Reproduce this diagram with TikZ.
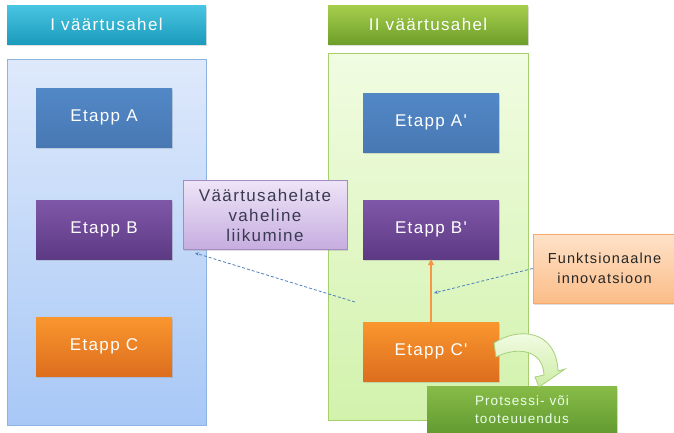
\documentclass[tikz,border=0pt]{standalone}
\usepackage{fontspec}
\setmainfont{Liberation Sans}
\newfontfamily\lsf[LetterSpace=8]{Liberation Sans}
\usetikzlibrary{shadows,arrows.meta}
\definecolor{hdrItop}{HTML}{48C5E2}
\definecolor{hdrIbot}{HTML}{1C9BBC}
\definecolor{hdrIItop}{HTML}{A6CE4C}
\definecolor{hdrIIbot}{HTML}{6E9F2A}
\definecolor{pLtop}{HTML}{DEE9FB}
\definecolor{pLbot}{HTML}{A8C8F6}
\definecolor{pLborder}{HTML}{8DB3E2}
\definecolor{pRtop}{HTML}{F1FCE2}
\definecolor{pRbot}{HTML}{D2F2AC}
\definecolor{pRborder}{HTML}{A6CF6E}
\definecolor{aTop}{HTML}{5288C6}
\definecolor{aBot}{HTML}{4878B4}
\definecolor{bTop}{HTML}{7F57A8}
\definecolor{bBot}{HTML}{5D3A84}
\definecolor{cTop}{HTML}{FA962E}
\definecolor{cBot}{HTML}{DC6E1E}
\definecolor{vTop}{HTML}{EEE4F7}
\definecolor{vBot}{HTML}{C6ADE0}
\definecolor{vBorder}{HTML}{A48CC3}
\definecolor{fTop}{HTML}{FEE2C8}
\definecolor{fBot}{HTML}{FBBD88}
\definecolor{fBorder}{HTML}{F6A96B}
\definecolor{gTop}{HTML}{88BC48}
\definecolor{gBot}{HTML}{629A30}
\definecolor{caTop}{HTML}{F6FDEA}
\definecolor{caBot}{HTML}{CDEDA6}
\definecolor{caBorder}{HTML}{A7D07A}
\definecolor{dashblue}{HTML}{4F81BD}
\definecolor{orangeline}{HTML}{F79646}
\definecolor{vText}{HTML}{3A3A52}
\begin{document}
\begin{tikzpicture}[x=1pt,y=-1pt,
  box/.style={rectangle, inner sep=0pt, align=center, font=\lsf\fontsize{17}{20}\selectfont},
  shad/.style={drop shadow={opacity=0.25, shadow xshift=1pt, shadow yshift=-1.5pt}},
  header/.style={box, shad, text=white, minimum height=39pt},
  panel/.style={rectangle, inner sep=0pt, line width=0.8pt},
  etapp/.style={box, shad, text=white, minimum width=136pt, minimum height=59pt},
  dline/.style={dashblue, line width=0.8pt, dash pattern=on 3pt off 2pt, -{Stealth[length=4pt,width=3.5pt]}},
  oarrow/.style={orangeline, line width=1.5pt, -{Triangle[length=6pt,width=6pt]}},
  curvearrow/.style={draw=caBorder, line width=0.8pt, top color=caTop, bottom color=caBot}
]
\useasboundingbox (0,0) rectangle (674,432);
\fill[white] (0,0) rectangle (674,432);

% headers
\node[header, minimum width=199pt, top color=hdrItop, bottom color=hdrIbot] (hI) at (106.5,24.5) {I väärtusahel};
\node[header, minimum width=200pt, top color=hdrIItop, bottom color=hdrIIbot] (hII) at (428,24.5) {II väärtusahel};

% panels
\node[panel, draw=pLborder, top color=pLtop, bottom color=pLbot, minimum width=199pt, minimum height=366pt] (pL) at (106.5,242) {};
\node[panel, draw=pRborder, top color=pRtop, bottom color=pRbot, minimum width=200pt, minimum height=367pt] (pR) at (428,236.5) {};

% stages chain I
\node[etapp, top color=aTop, bottom color=aBot] (eA) at (104,117.5) {Etapp A};
\node[etapp, top color=bTop, bottom color=bBot] (eB) at (104,229.5) {Etapp B};
\node[etapp, top color=cTop, bottom color=cBot] (eC) at (104,346.5) {Etapp C};

% stages chain II
\node[etapp, top color=aTop, bottom color=aBot] (eAp) at (431,122.5) {Etapp A'};
\node[etapp, top color=bTop, bottom color=bBot] (eBp) at (431,229.5) {Etapp B'};
\node[etapp, top color=cTop, bottom color=cBot] (eCp) at (431,351.5) {Etapp C'};

% labels
\node[box, shad, draw=vBorder, line width=0.6pt, top color=vTop, bottom color=vBot, text=vText,
      minimum width=164pt, minimum height=69pt] (vl) at (265,215)
      {Väärtusahelate\\vaheline\\liikumine};
\node[box, shad, draw=fBorder, line width=0.6pt, top color=fTop, bottom color=fBot, text=black!85,
      font=\lsf\fontsize{14.5}{20}\selectfont, minimum width=143pt, minimum height=69pt, text width=135pt] (fi) at (604.5,268.5)
      {Funktsionaalne\\innovatsioon};
\node[box, shad, top color=gTop, bottom color=gBot, text=white!92!green,
      font=\lsf\fontsize{13.5}{18}\selectfont, minimum width=190pt, minimum height=48pt] (pt) at (522,410)
      {Protsessi- või\\tooteuuendus};

% connectors
\coordinate (d1s) at (355,302);
\coordinate (d1e) at (195,253);
\draw[dline] (d1s) -- (d1e);
\coordinate (d2e) at (434,293);
\draw[dline] (fi.west) -- (d2e);
\draw[oarrow] (eCp.north) -- (eBp.south);

% curved block arrow from Etapp C' to Protsessi box
\path[curvearrow] (494,343) .. controls (518,327) and (556,329) .. (558,371)
   -- (565,369) -- (539,387) -- (535,377) -- (544,375)
   .. controls (543,350) and (518,346) .. (496,357) -- cycle;
\end{tikzpicture}
\end{document}
